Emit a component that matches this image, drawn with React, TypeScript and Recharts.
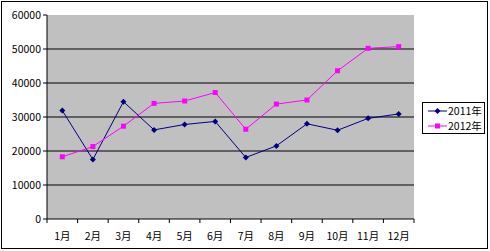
import { LineChart, Line, XAxis, YAxis, CartesianGrid } from "recharts"

const months = ["1月", "2月", "3月", "4月", "5月", "6月", "7月", "8月", "9月", "10月", "11月", "12月"]
const sales2011 = [31900, 17500, 34500, 26200, 27800, 28700, 18100, 21500, 28000, 26100, 29600, 30900]
const sales2012 = [18300, 21300, 27300, 34000, 34700, 37200, 26400, 33800, 35000, 43600, 50200, 50700]
const yTicks = [0, 10000, 20000, 30000, 40000, 50000, 60000]
const gridValues = [10000, 20000, 30000, 40000, 50000]
const seriesNames = ["2011年", "2012年"]

const data = months.map((m, i) => ({ month: m, a: sales2011[i], b: sales2012[i] }))

const font = "'Noto Sans CJK SC', 'DejaVu Sans', sans-serif"
const BAND = 30.6

function Diamond({ cx, cy, fill }: any) {
  if (cx == null || cy == null) return null
  return <path d={`M${cx},${cy - 3}L${cx + 3},${cy}L${cx},${cy + 3}L${cx - 3},${cy}Z`} fill={fill} />
}

function Square({ cx, cy, fill }: any) {
  if (cx == null || cy == null) return null
  return <rect x={cx - 2.5} y={cy - 2.5} width={5} height={5} fill={fill} />
}

function MonthTick({ x, y, payload, index }: any) {
  const top = y - 8
  return (
    <g>
      <line x1={x - BAND / 2} y1={top} x2={x - BAND / 2} y2={top + 4} stroke="#000" />
      {index === months.length - 1 && (
        <line x1={x + BAND / 2} y1={top} x2={x + BAND / 2} y2={top + 4} stroke="#000" />
      )}
      <text x={x} y={y + 13} textAnchor="middle" fontSize={10.5} fontFamily={font} fill="#000">
        {payload.value}
      </text>
    </g>
  )
}

function LegendBox() {
  const rows = [
    { name: seriesNames[0], color: "#000080", marker: "d" },
    { name: seriesNames[1], color: "#FF00FF", marker: "s" },
  ]
  return (
    <div
      style={{
        position: "absolute",
        left: 422,
        top: 102,
        border: "1px solid #000",
        background: "#fff",
        width: 61,
        height: 30,
      }}
    >
      {rows.map((r) => (
        <div key={r.name} style={{ display: "flex", alignItems: "center", height: 15, whiteSpace: "nowrap" }}>
          <svg width={21} height={10} style={{ marginLeft: 4, flex: "none" }}>
            <line x1={1} y1={5} x2={20} y2={5} stroke={r.color} />
            {r.marker === "d" ? (
              <path d="M10.5,2L13.5,5L10.5,8L7.5,5Z" fill={r.color} />
            ) : (
              <rect x={8} y={2.5} width={5} height={5} fill={r.color} />
            )}
          </svg>
          <span style={{ fontSize: 10.5, fontFamily: font, color: "#000", lineHeight: "12px" }}>{r.name}</span>
        </div>
      ))}
    </div>
  )
}

export default function App() {
  return (
    <div style={{ position: "absolute", left: 0, top: 0, width: 490, height: 251, background: "#fff" }}>
      <div
        style={{
          position: "absolute",
          left: 1,
          top: 1,
          width: 485,
          height: 246,
          border: "1px solid #000",
        }}
      />
      <LineChart
        width={490}
        height={251}
        data={data}
        margin={{ top: 15, right: 76, bottom: 2, left: 7 }}
        style={{ position: "absolute", left: 0, top: 0 }}
      >
        <CartesianGrid
          vertical={false}
          horizontalValues={gridValues}
          fill="#C0C0C0"
          stroke="#000"
          strokeOpacity={1}
        />
        <XAxis
          dataKey="month"
          height={30}
          padding={{ left: BAND / 2, right: BAND / 2 }}
          axisLine={{ stroke: "#000" }}
          tickLine={false}
          interval={0}
          tick={<MonthTick />}
        />
        <YAxis
          width={40}
          domain={[0, 60000]}
          ticks={yTicks}
          interval={0}
          axisLine={{ stroke: "#000" }}
          tickLine={{ stroke: "#000" }}
          tickSize={4}
          tick={{ fontSize: 10.5, fontFamily: font, fill: "#000" }}
        />
        <Line
          dataKey="a"
          name={seriesNames[0]}
          stroke="#000080"
          strokeWidth={1}
          dot={<Diamond fill="#000080" />}
          activeDot={false}
          isAnimationActive={false}
        />
        <Line
          dataKey="b"
          name={seriesNames[1]}
          stroke="#FF00FF"
          strokeWidth={1}
          dot={<Square fill="#FF00FF" />}
          activeDot={false}
          isAnimationActive={false}
        />
      </LineChart>
      <LegendBox />
    </div>
  )
}
